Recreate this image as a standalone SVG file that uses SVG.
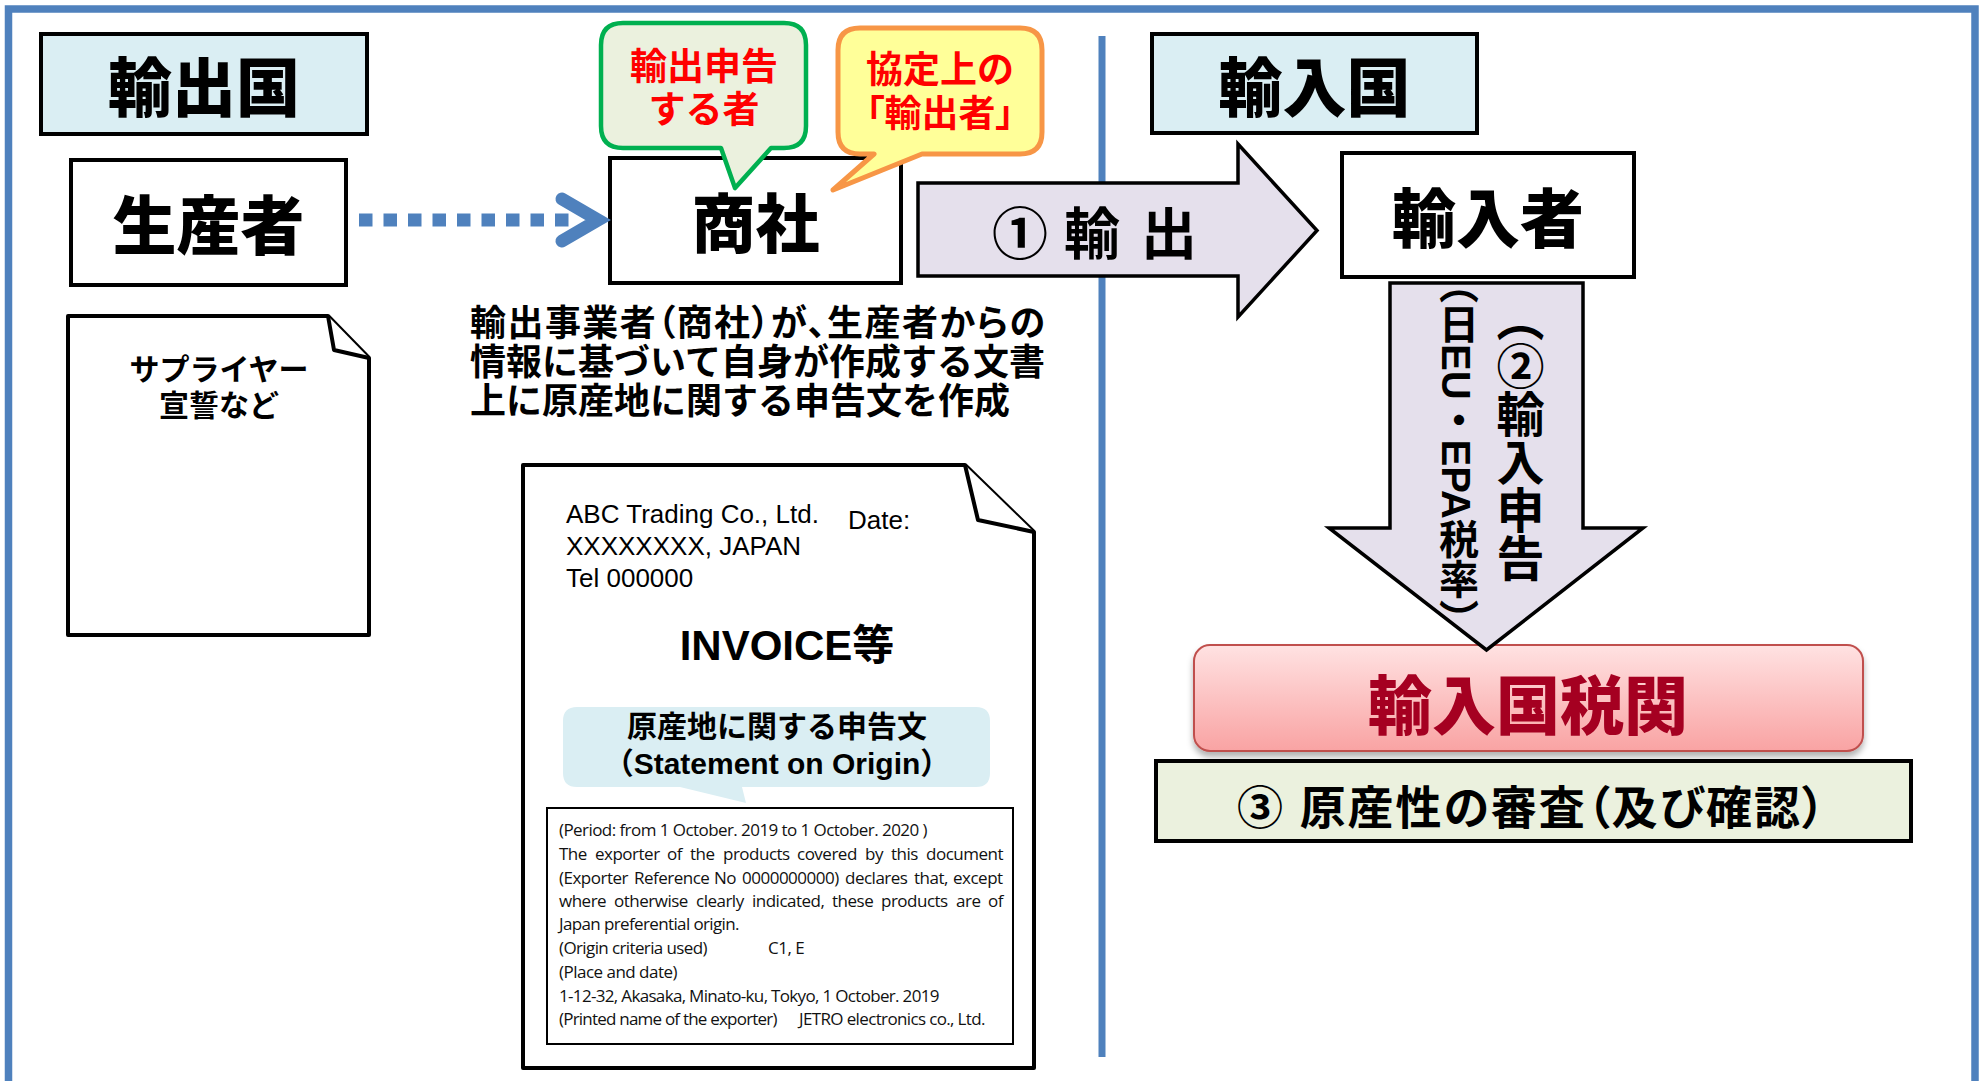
<svg xmlns="http://www.w3.org/2000/svg" width="1983" height="1081" viewBox="0 0 1983 1081">
<defs>
<linearGradient id="pink" x1="0" y1="0" x2="0" y2="1"><stop offset="0" stop-color="#FFE2E2"/><stop offset="1" stop-color="#F9A3A3"/></linearGradient>
<filter id="sh" x="-5%" y="-10%" width="110%" height="140%"><feDropShadow dx="0" dy="5" stdDeviation="3" flood-color="#000" flood-opacity="0.3"/></filter>
</defs>
<style>
.jp{font-family:"Liberation Sans","Noto Sans CJK JP",sans-serif;}
.big{font-weight:900;font-size:64px;text-anchor:middle;fill:#000;}
.box{fill:#fff;stroke:#000;stroke-width:4;}
.hdr{fill:#DAEEF3;stroke:#000;stroke-width:4;}
.red{fill:#FF0000;font-weight:bold;font-size:37px;text-anchor:middle;}
.doc{fill:#fff;stroke:#000;stroke-width:4;stroke-linejoin:round;}
.lav{fill:#E5E0EC;stroke:#000;stroke-width:3.5;stroke-linejoin:miter;}
.inv{font-family:"Liberation Sans","Noto Sans CJK JP",sans-serif;font-size:26px;fill:#000;}
.st{font-family:"Open Sans","Liberation Sans",sans-serif;font-size:17px;letter-spacing:-0.5px;fill:#111;}
.desc{font-weight:bold;font-size:36px;fill:#000;}
.palt{font-feature-settings:"palt";}
</style>
<rect width="1983" height="1081" fill="#fff"/>
<g id="frame">
<rect x="8.5" y="9" width="1966.5" height="1090" fill="none" stroke="#4F81BD" stroke-width="7.5"/>
<line x1="1102" y1="36" x2="1102" y2="1057" stroke="#4F81BD" stroke-width="7"/>
</g>

<g id="export-country">
<rect class="hdr" x="41" y="34" width="326" height="100"/>
<text class="jp big" x="204" y="111">輸出国</text>
</g>
<g id="producer">
<rect class="box" x="71" y="160" width="275" height="125"/>
<text class="jp big" x="208.5" y="249" font-size="62">生産者</text>
</g>
<g id="trading-company">
<rect class="box" x="610" y="158" width="291" height="125"/>
<text class="jp big" x="755.5" y="247" font-size="62">商社</text>
</g>
<g id="import-country">
<rect class="hdr" x="1152" y="34" width="325" height="99"/>
<text class="jp big" x="1314.5" y="111">輸入国</text>
</g>
<g id="importer">
<rect class="box" x="1342" y="153" width="292" height="124"/>
<text class="jp big" x="1488" y="242">輸入者</text>
</g>
<g id="customs">
<rect x="1194" y="645" width="669" height="106" rx="16" fill="url(#pink)" stroke="#C0504D" stroke-width="2" filter="url(#sh)"/>
<text class="jp big" x="1528" y="729" style="fill:#A50021">輸入国税関</text>
</g>
<g id="review">
<rect x="1156" y="761" width="755" height="80" fill="#EBF1DE" stroke="#000" stroke-width="4"/>
<text class="jp palt" x="1237" y="824" font-size="46" font-weight="bold" textLength="588">③ 原産性の審査（及び確認）</text>
</g>

<g id="connectors">
<line x1="359" y1="220" x2="572" y2="220" stroke="#4F81BD" stroke-width="13" stroke-dasharray="13.5 11"/>
<polyline points="562,199 598,220 562,241" fill="none" stroke="#4F81BD" stroke-width="13" stroke-linecap="round" stroke-linejoin="miter"/>
<g id="export-arrow">
<path class="lav" d="M918,183 H1238 V144 L1317,230.5 L1238,317 V276 H918 Z"/>
<text class="jp" x="992 1048 1064 1120 1141" y="254" font-size="56" font-weight="bold">① 輸 出</text>
</g>
<g id="import-declaration-arrow">
<path class="lav" d="M1390,283 H1583 V528 H1643 L1486.5,650 L1329,528 H1390 Z"/>
<text class="jp" x="1516" y="294" font-size="48" font-weight="bold" style="writing-mode:vertical-rl">（②輸入申告</text>
<text class="jp" x="1456" y="264" font-size="40" font-weight="bold" style="writing-mode:vertical-rl">（日EU・EPA税率）</text>
</g>
</g>

<g id="bubble-declarant">
<path d="M623,23 H784 Q806,23 806,45 V126 Q806,148 784,148 H771 L735,188 L721,148 H623 Q601,148 601,126 V45 Q601,23 623,23 Z" fill="#EBF1DE" stroke="#00B050" stroke-width="4.5" stroke-linejoin="round"/>
<text class="jp red" x="704" y="80">輸出申告</text>
<text class="jp red" x="704" y="123">する者</text>
</g>
<g id="bubble-exporter">
<path d="M860,28 H1020 Q1042,28 1042,50 V132 Q1042,154 1020,154 H922 L833,190 L874,154 H860 Q838,154 838,132 V50 Q838,28 860,28 Z" fill="#FFFF99" stroke="#F79646" stroke-width="5" stroke-linejoin="round"/>
<text class="jp red" x="940" y="83">協定上の</text>
<text class="jp red palt" x="940" y="127">「輸出者」</text>
</g>

<g id="supplier-doc">
<path class="doc" d="M68,316 H328 L369,358 V635 H68 Z"/>
<path class="doc" d="M328,316 L334,350 L369,358"/>
<text class="jp" x="219" y="380" font-size="30" font-weight="bold" text-anchor="middle">サプライヤー</text>
<text class="jp" x="219" y="416" font-size="30" font-weight="bold" text-anchor="middle">宣誓など</text>
</g>

<g id="note">
<text class="jp desc palt" x="470" y="336" textLength="575">輸出事業者（商社）が、生産者からの</text>
<text class="jp desc" x="470" y="375">情報に基づいて自身が作成する文書</text>
<text class="jp desc" x="470" y="414">上に原産地に関する申告文を作成</text>
</g>

<g id="invoice-doc">
<path class="doc" d="M523,465 H965 L1034,532 V1068 H523 Z"/>
<path class="doc" d="M965,465 L978,520 L1034,532"/>
<text class="inv" x="566" y="523">ABC Trading Co., Ltd.</text>
<text class="inv" x="848" y="529">Date:</text>
<text class="inv" x="566" y="555">XXXXXXXX, JAPAN</text>
<text class="inv" x="566" y="587">Tel 000000</text>
<text class="jp" x="787" y="660" font-size="42" font-weight="bold" text-anchor="middle">INVOICE等</text>
<path d="M577,707 H976 Q990,707 990,721 V773 Q990,787 976,787 H742 L746,803 L680,787 H577 Q563,787 563,773 V721 Q563,707 577,707 Z" fill="#DAEEF3"/>
<text class="jp" x="777" y="737" font-size="30" font-weight="bold" text-anchor="middle">原産地に関する申告文</text>
<text class="jp" x="777" y="774" font-size="30" font-weight="bold" text-anchor="middle">（Statement on Origin）</text>
<rect x="547" y="808" width="466" height="236" fill="#fff" stroke="#000" stroke-width="2"/>
<text class="st" x="559" y="836" textLength="368">(Period: from 1 October. 2019 to 1 October. 2020 )</text>
<text class="st" y="860"><tspan x="559">The</tspan> <tspan x="595">exporter</tspan> <tspan x="667">of</tspan> <tspan x="690">the</tspan> <tspan x="723">products</tspan> <tspan x="797">covered</tspan> <tspan x="865">by</tspan> <tspan x="891">this</tspan> <tspan x="926">document</tspan></text>
<text class="st" y="884"><tspan x="559">(Exporter</tspan> <tspan x="634">Reference</tspan> <tspan x="714">No</tspan> <tspan x="742">0000000000)</tspan> <tspan x="845">declares</tspan> <tspan x="914">that,</tspan> <tspan x="953">except</tspan></text>
<text class="st" y="907"><tspan x="559">where</tspan> <tspan x="614">otherwise</tspan> <tspan x="696">clearly</tspan> <tspan x="752">indicated,</tspan> <tspan x="832">these</tspan> <tspan x="881">products</tspan> <tspan x="956">are</tspan> <tspan x="988">of</tspan></text>
<text class="st" x="559" y="930" textLength="180">Japan preferential origin.</text>
<text class="st" x="559" y="954" textLength="148">(Origin criteria used)</text>
<text class="st" x="768" y="954">C1, E</text>
<text class="st" x="559" y="978" textLength="118">(Place and date)</text>
<text class="st" x="559" y="1002" textLength="380">1-12-32, Akasaka, Minato-ku, Tokyo, 1 October. 2019</text>
<text class="st" x="559" y="1025" textLength="218">(Printed name of the exporter)</text>
<text class="st" x="799" y="1025" textLength="186">JETRO electronics co., Ltd.</text>
</g>
</svg>
